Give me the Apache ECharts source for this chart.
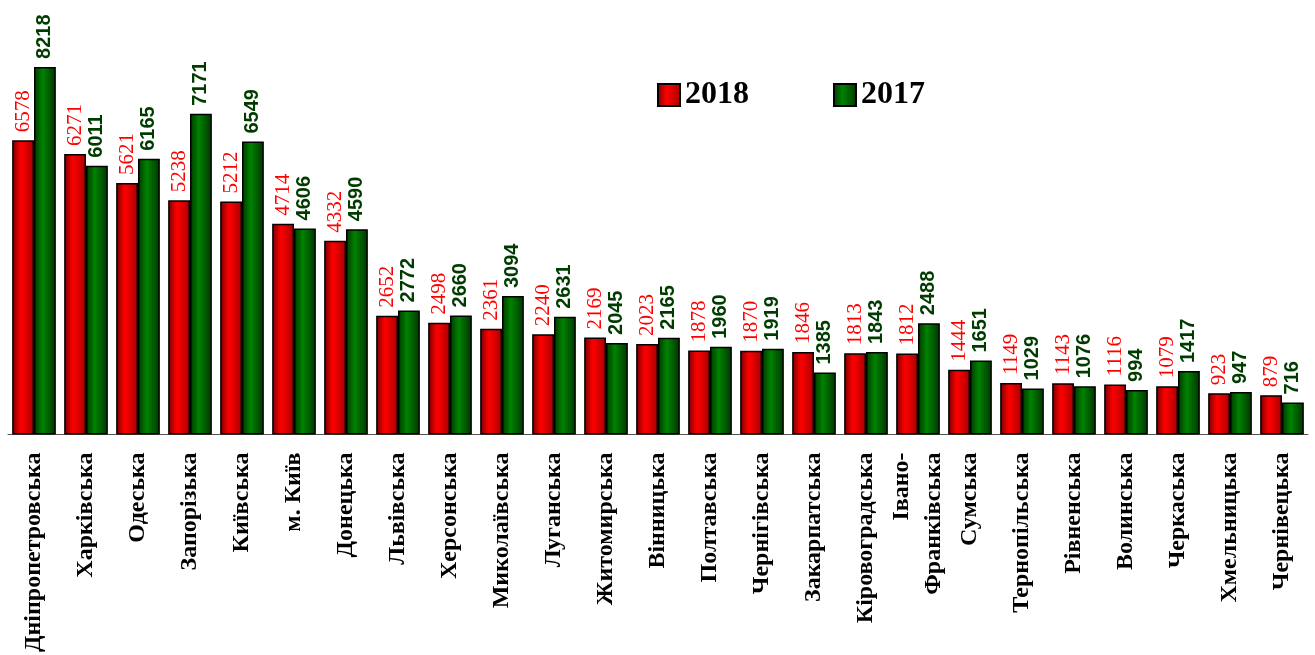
<!DOCTYPE html>
<html>
<head>
<meta charset="utf-8">
<script src="https://cdn.jsdelivr.net/npm/echarts@6/dist/echarts.min.js"></script>
<style>
  html, body { margin: 0; padding: 0; background: #fff; }
  #chart { width: 1315px; height: 655px; }
</style>
</head>
<body>
<div id="chart"></div>
<script>
const regions = [
  'Дніпропетровська', 'Харківська', 'Одеська', 'Запорізька', 'Київська',
  'м. Київ', 'Донецька', 'Львівська', 'Херсонська', 'Миколаївська',
  'Луганська', 'Житомирська', 'Вінницька', 'Полтавська', 'Чернігівська',
  'Закарпатська', 'Кіровоградська', 'Івано-\nФранківська', 'Сумська', 'Тернопільська',
  'Рівненська', 'Волинська', 'Черкаська', 'Хмельницька', 'Чернівецька'
]
const values2018 = [
  6578, 6271, 5621, 5238, 5212, 4714, 4332, 2652, 2498, 2361,
  2240, 2169, 2023, 1878, 1870, 1846, 1813, 1812, 1444, 1149,
  1143, 1116, 1079, 923, 879
]
const values2017 = [
  8218, 6011, 6165, 7171, 6549, 4606, 4590, 2772, 2660, 3094,
  2631, 2045, 2165, 1960, 1919, 1385, 1843, 2488, 1651, 1029,
  1076, 994, 1417, 947, 716
]

const chart = echarts.init(document.getElementById('chart'))

// horizontal shading like the original bars
const redFill = new echarts.graphic.LinearGradient(0, 0, 1, 0, [
  { offset: 0, color: '#780000' },
  { offset: 0.4, color: '#ff0000' },
  { offset: 1, color: '#a80000' }
])
const greenFill = new echarts.graphic.LinearGradient(0, 0, 1, 0, [
  { offset: 0, color: '#003800' },
  { offset: 0.4, color: '#008200' },
  { offset: 1, color: '#003400' }
])

const option = {
  animation: false,
  backgroundColor: '#fff',
  legend: {
    left: 652,
    top: 74,
    itemWidth: 22,
    itemHeight: 22,
    itemGap: 84,
    icon: 'rect',
    textStyle: {
      fontFamily: 'Liberation Serif',
      fontWeight: 'bold',
      fontSize: 32,
      color: '#000'
    },
    data: ['2018', '2017']
  },
  grid: {
    left: 8,
    right: 7,
    top: 32,
    bottom: 219,
    containLabel: false
  },
  xAxis: {
    type: 'category',
    data: regions,
    axisLine: { lineStyle: { color: '#555', width: 1 } },
    axisTick: { length: 8, lineStyle: { color: '#555' } },
    axisLabel: {
      rotate: 90,
      interval: 0,
      margin: 18,
      fontFamily: 'Liberation Serif',
      fontWeight: 'bold',
      fontSize: 24,
      lineHeight: 32,
      color: '#000'
    }
  },
  yAxis: {
    type: 'value',
    min: 0,
    max: 9000,
    show: false,
    splitLine: { show: false }
  },
  series: [
    {
      name: '2018',
      type: 'bar',
      data: values2018,
      barGap: '0%',
      barCategoryGap: '16%',
      itemStyle: { color: redFill, borderColor: '#000', borderWidth: 1.5 },
      label: {
        show: true,
        position: 'top',
        rotate: 90,
        align: 'left',
        verticalAlign: 'middle',
        distance: 8,
        fontFamily: 'Liberation Serif',
        fontSize: 21,
        color: '#ff0000'
      }
    },
    {
      name: '2017',
      type: 'bar',
      data: values2017,
      barGap: '0%',
      barCategoryGap: '16%',
      itemStyle: { color: greenFill, borderColor: '#000', borderWidth: 1.5 },
      label: {
        show: true,
        position: 'top',
        rotate: 90,
        align: 'left',
        verticalAlign: 'middle',
        distance: 8,
        fontFamily: 'Liberation Sans',
        fontWeight: 'bold',
        fontSize: 20,
        color: '#003c00'
      }
    }
  ]
}

chart.setOption(option)
</script>
</body>
</html>
